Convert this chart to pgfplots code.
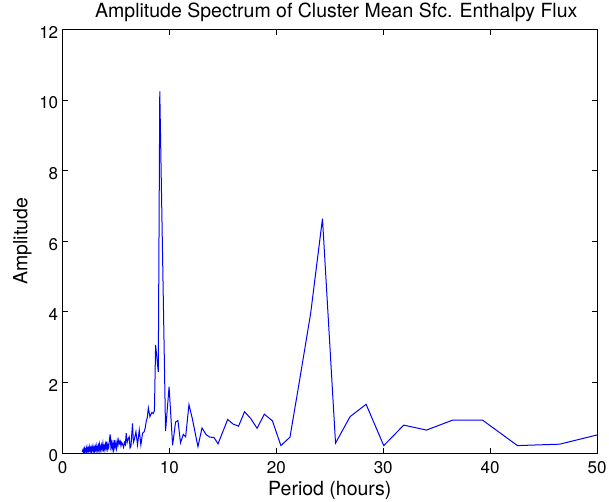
\documentclass[border=0pt]{standalone}
\usepackage{pgfplots}
\pgfplotsset{compat=1.18}
\usepackage{fontspec}
\setmainfont{TeX Gyre Heros}
\begin{document}
\begin{tikzpicture}
\begin{axis}[
  at={(0,0)}, anchor=south west,
  scale only axis,
  width=534.5pt, height=423.5pt,
  xmin=0, xmax=50, ymin=0, ymax=12,
  xtick={0,10,20,30,40,50},
  ytick={0,2,4,6,8,10,12},
  tick align=inside,
  major tick length=5.5pt,
  xtick pos=both, ytick pos=both,
  axis line style={line width=0.8pt},
  every tick/.style={black, line width=0.8pt},
  font=\fontsize{17}{20}\selectfont,
  /pgf/number format/assume math mode=true,
  xticklabel style={anchor=base, yshift=-20pt},
  yticklabel style={anchor=east, xshift=-0.8pt, yshift=-3pt},
  every axis title/.style={at={(axis description cs:0.5,1)}, anchor=base, yshift=12pt, xshift=6.5pt, font=\fontsize{19.5}{23}\selectfont},
  title={Amplitude Spectrum of Cluster Mean Sfc. Enthalpy Flux},
  every axis x label/.style={at={(axis description cs:0.5,0)}, anchor=base, yshift=-42pt, font=\fontsize{19.5}{23}\selectfont},
  xlabel={Period (hours)},
  every axis y label/.style={at={(axis description cs:-0.0659,0.5)}, rotate=90, anchor=base, font=\fontsize{19.5}{23}\selectfont},
  ylabel={Amplitude},
]
\addplot[color={rgb,255:red,0;green,0;blue,255}, line width=1pt] coordinates {
(1.85,0.03) (1.90,0.08) (1.94,0.04) (1.98,0.10) (2.02,0.05) (2.06,0.12)
(2.10,0.03) (2.14,0.09) (2.18,0.06) (2.22,0.14) (2.26,0.04) (2.30,0.11)
(2.34,0.07) (2.38,0.15) (2.42,0.05) (2.46,0.12) (2.50,0.08) (2.55,0.18)
(2.60,0.06) (2.65,0.13) (2.70,0.04) (2.75,0.16) (2.80,0.09) (2.85,0.19)
(2.90,0.07) (2.95,0.14) (3.00,0.05) (3.05,0.17) (3.10,0.10) (3.15,0.21)
(3.20,0.08) (3.25,0.15) (3.30,0.06) (3.35,0.20) (3.40,0.11) (3.45,0.24)
(3.50,0.09) (3.55,0.17) (3.60,0.07) (3.66,0.22) (3.72,0.12) (3.78,0.28)
(3.84,0.10) (3.90,0.19) (3.96,0.08) (4.02,0.25) (4.08,0.14) (4.14,0.32)
(4.20,0.12) (4.26,0.22) (4.32,0.15) (4.40,0.40) (4.46,0.53) (4.52,0.18)
(4.58,0.30) (4.64,0.12) (4.70,0.26) (4.77,0.10) (4.84,0.37) (4.91,0.15)
(4.98,0.28) (5.05,0.13) (5.12,0.35) (5.19,0.22) (5.26,0.37) (5.33,0.27)
(5.40,0.33) (5.47,0.20) (5.54,0.30) (5.62,0.25) (5.71,0.16) (5.80,0.30)
(5.88,0.24) (5.96,0.56) (6.05,0.30) (6.14,0.40) (6.24,0.46) (6.32,0.14)
(6.40,0.18) (6.55,0.84) (6.63,0.30) (6.71,0.37) (6.87,0.60) (7.02,0.23)
(7.18,0.65) (7.33,0.23) (7.49,0.56) (7.64,0.60) (7.73,0.70) (7.83,0.89)
(7.93,1.00) (8.03,1.28) (8.18,1.03) (8.36,1.15) (8.49,1.12) (8.60,1.20)
(8.71,3.06) (8.96,2.30) (9.10,10.25) (9.64,0.62) (9.97,1.88) (10.30,0.22)
(10.58,0.88) (10.80,0.92) (11.04,0.29) (11.30,0.53) (11.52,0.46) (11.83,1.37)
(12.14,0.98) (12.67,0.18) (13.05,0.71) (13.44,0.52) (13.77,0.45) (14.17,0.44)
(14.55,0.26) (15.45,0.95) (15.96,0.82) (16.47,0.76) (17.03,1.17) (17.60,0.98)
(18.20,0.70) (18.88,1.10) (19.64,0.91) (20.43,0.21) (21.28,0.45) (22.20,2.10)
(23.21,3.95) (24.32,6.64) (25.54,0.28) (26.90,1.03) (28.40,1.38) (30.05,0.21)
(31.92,0.79) (34.05,0.65) (36.48,0.93) (39.30,0.93) (42.56,0.21) (46.50,0.25)
(51.07,0.59)
};
\end{axis}
\pgfresetboundingbox
\path[use as bounding box] (-62.5pt,-48pt) rectangle (546.5pt,453pt);
\end{tikzpicture}
\end{document}
